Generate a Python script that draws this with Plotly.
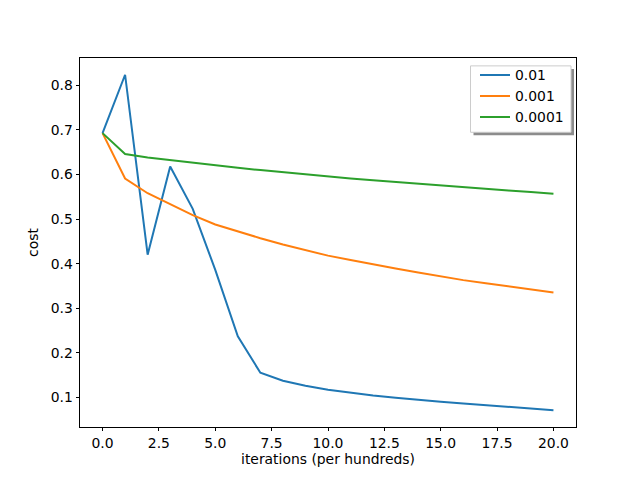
import plotly.graph_objects as go

iterations = list(range(21))
labels = ["0.01", "0.001", "0.0001"]
cost_001 = [0.693, 0.824, 0.420, 0.618, 0.523, 0.386, 0.237, 0.155, 0.137, 0.126,
            0.117, 0.110, 0.104, 0.099, 0.094, 0.090, 0.086, 0.082, 0.078, 0.075, 0.071]
cost_0001 = [0.693, 0.591, 0.558, 0.533, 0.509, 0.488, 0.472, 0.457, 0.443, 0.430,
             0.418, 0.408, 0.398, 0.389, 0.380, 0.371, 0.363, 0.356, 0.349, 0.342, 0.335]
cost_00001 = [0.693, 0.646, 0.638, 0.632, 0.626, 0.620, 0.615, 0.610, 0.605, 0.600,
              0.595, 0.591, 0.587, 0.583, 0.579, 0.575, 0.571, 0.568, 0.564, 0.561, 0.557]
colors = ["#1f77b4", "#ff7f0e", "#2ca02c"]

series = [cost_001, cost_0001, cost_00001]

fig = go.Figure()
for name, ys, c in zip(labels, series, colors):
    fig.add_trace(go.Scatter(x=iterations, y=ys, mode="lines", name=name,
                             line=dict(color=c, width=2)))

font = dict(family="DejaVu Sans", size=13.9, color="black")
axis_common = dict(showline=True, linecolor="black", linewidth=0.8, mirror=True,
                   ticks="outside", ticklen=3.5, tickwidth=0.8, tickcolor="black",
                   showgrid=False, zeroline=False, tickfont=font)

L, R, T, B = 80, 576, 57.6, 427.2
W, H = R - L, B - T
def px(x):
    return (x - L) / W
def py(y):
    return (B - y) / H

box = (470.5, 571, 65.5, 132)  # legend frame in pixels
sh = 3

fig.update_layout(
    width=640, height=480,
    margin=dict(l=80, r=64, t=57.6, b=52.8),
    paper_bgcolor="white", plot_bgcolor="white",
    font=font,
    xaxis=dict(range=[-1, 21], tickvals=[0, 2.5, 5, 7.5, 10, 12.5, 15, 17.5, 20],
               ticktext=["0.0", "2.5", "5.0", "7.5", "10.0", "12.5", "15.0", "17.5", "20.0"],
               title=dict(text="iterations (per hundreds)", font=font, standoff=4),
               **axis_common),
    yaxis=dict(range=[0.0333, 0.8616], tickvals=[0.1, 0.2, 0.3, 0.4, 0.5, 0.6, 0.7, 0.8],
               ticktext=["0.1", "0.2", "0.3", "0.4", "0.5", "0.6", "0.7", "0.8"],
               title=dict(text="cost", font=font, standoff=8),
               **axis_common),
    legend=dict(x=px(475), y=py(59), xanchor="left", yanchor="top",
                bgcolor="rgba(0,0,0,0)", borderwidth=0,
                font=font, itemwidth=30),
    shapes=[
        dict(type="rect", xref="paper", yref="paper",
             x0=px(box[0] + sh), x1=px(box[1] + sh), y0=py(box[3] + sh), y1=py(box[2] + sh),
             fillcolor="rgba(0,0,0,0.45)", line=dict(width=0), layer="above"),
        dict(type="rect", xref="paper", yref="paper",
             x0=px(box[0]), x1=px(box[1]), y0=py(box[3]), y1=py(box[2]),
             fillcolor="white", line=dict(width=1, color="#cccccc"), layer="above"),
    ],
    showlegend=True,
)

fig.write_html("out.html")
